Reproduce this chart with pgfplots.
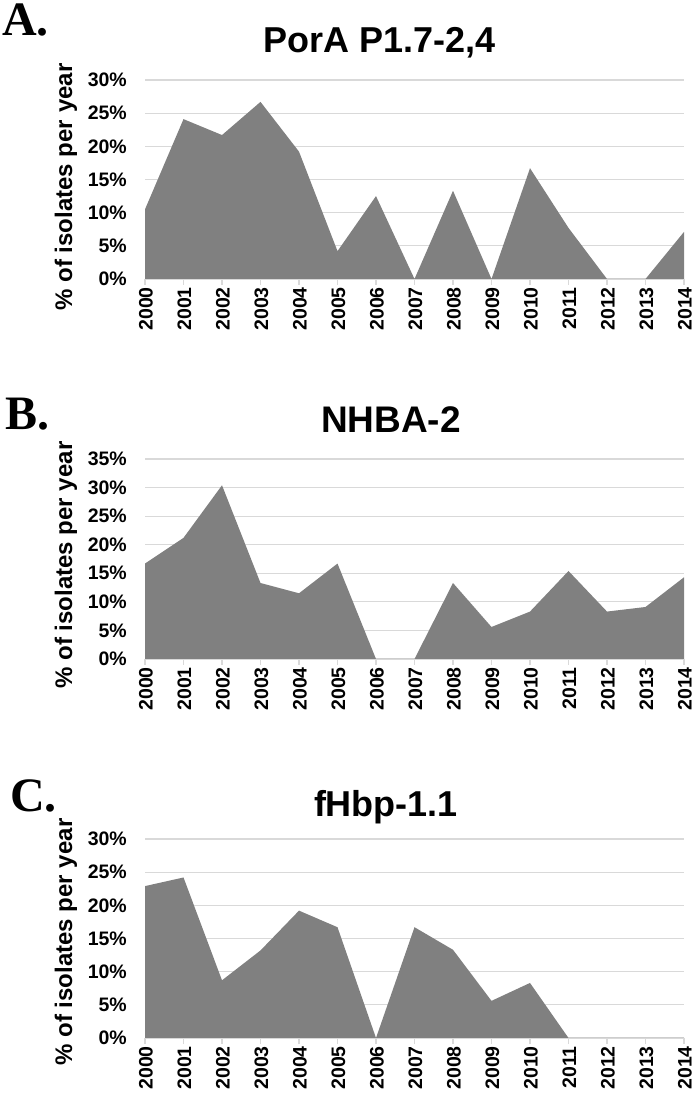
\documentclass[border=0pt]{standalone}
\usepackage{fontspec}
\setmainfont{Liberation Sans}
\newfontfamily\letterfont{Liberation Serif}
\usepackage{pgfplots}
\pgfplotsset{compat=1.18}
\definecolor{areagray}{HTML}{808080}
\definecolor{gridgray}{HTML}{D9D9D9}
\pgfplotsset{
 panel/.style={
  scale only axis, width=539pt, anchor=south west,
  xmin=2000, xmax=2014, ymin=0,
  xtick={2000,2001,...,2014},
  xticklabels={2000,2001,2002,2003,2004,2005,2006,2007,2008,2009,2010,2011,2012,2013,2014},
  ymajorgrids, grid style={gridgray, line width=1.2pt},
  axis x line*=bottom, axis y line*=left,
  x axis line style={gridgray, line width=1.2pt, -},
  y axis line style={draw=none},
  ytick style={draw=none},
  xtick style={gridgray, line width=1.2pt},
  tick align=outside, major tick length=6pt,
  ticklabel style={font=\fontsize{19.5}{23}\selectfont\bfseries},
  xticklabel style={rotate=90, anchor=east, inner sep=2pt, yshift=-1pt},
  yticklabel style={inner sep=2pt, xshift=-10pt},
  clip=false,
 }
}
\begin{document}
\begin{tikzpicture}[x=1pt,y=1pt]
\path (0,0) rectangle (691,1099);
% Panel A
\begin{axis}[panel, at={(145pt,820pt)}, height=199pt, ymax=30,
  ytick={0,5,...,30}, yticklabels={0\%,5\%,10\%,15\%,20\%,25\%,30\%}]
\addplot[fill=areagray, draw=none] coordinates {
(2000,10.5) (2001,24.1) (2002,21.7) (2003,26.7) (2004,19.2) (2005,4.2) (2006,12.5) (2007,0)
(2008,13.3) (2009,0) (2010,16.7) (2011,7.7) (2012,0) (2013,0) (2014,7.1)} \closedcycle;
\end{axis}
% Panel B
\begin{axis}[panel, at={(145pt,440pt)}, height=200pt, ymax=35,
  ytick={0,5,...,35}, yticklabels={0\%,5\%,10\%,15\%,20\%,25\%,30\%,35\%}]
\addplot[fill=areagray, draw=none] coordinates {
(2000,16.7) (2001,21.2) (2002,30.4) (2003,13.3) (2004,11.5) (2005,16.7) (2006,0) (2007,0)
(2008,13.3) (2009,5.6) (2010,8.3) (2011,15.4) (2012,8.3) (2013,9.1) (2014,14.3)} \closedcycle;
\end{axis}
% Panel C
\begin{axis}[panel, at={(145pt,61pt)}, height=199pt, ymax=30,
  ytick={0,5,...,30}, yticklabels={0\%,5\%,10\%,15\%,20\%,25\%,30\%}]
\addplot[fill=areagray, draw=none] coordinates {
(2000,22.9) (2001,24.2) (2002,8.7) (2003,13.2) (2004,19.2) (2005,16.7) (2006,0) (2007,16.7)
(2008,13.3) (2009,5.6) (2010,8.3) (2011,0) (2012,0) (2013,0) (2014,0)} \closedcycle;
\end{axis}
% titles
\node[font=\fontsize{36}{40}\selectfont\bfseries, anchor=base, inner sep=0pt] at (380,1046) {PorA P1.7-2,4};
\node[font=\fontsize{37}{40}\selectfont\bfseries, anchor=base, inner sep=0pt] at (391,666) {NHBA-2};
\node[font=\fontsize{36}{40}\selectfont\bfseries, anchor=base, inner sep=0pt] at (386,282) {fHbp-1.1};
% panel letters
\node[font=\fontsize{48}{52}\selectfont\letterfont\bfseries, anchor=base west, inner sep=0pt] at (2,1063) {A.};
\node[font=\fontsize{48}{52}\selectfont\letterfont\bfseries, anchor=base west, inner sep=0pt] at (5,669) {B.};
\node[font=\fontsize{48}{52}\selectfont\letterfont\bfseries, anchor=base west, inner sep=0pt] at (10,287) {C.};
% y labels
\node[rotate=90, font=\fontsize{24}{27}\selectfont\bfseries] at (66,912) {\% of isolates per year};
\node[rotate=90, font=\fontsize{24}{27}\selectfont\bfseries] at (66,534) {\% of isolates per year};
\node[rotate=90, font=\fontsize{24}{27}\selectfont\bfseries] at (66,157) {\% of isolates per year};
\end{tikzpicture}
\end{document}
